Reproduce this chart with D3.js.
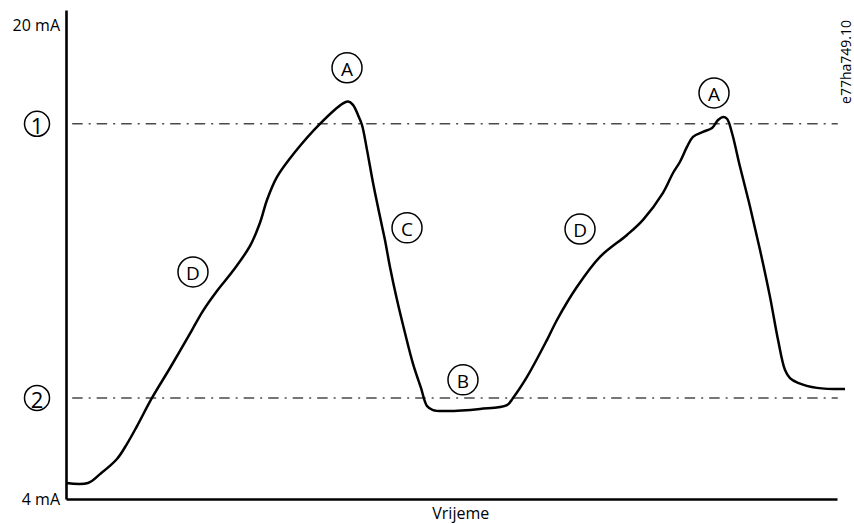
<!doctype html>
<html lang="hr">
  <head>
    <meta charset="utf-8">
    <title>Vrijeme / mA</title>
    <style>
      body {
          margin: 0;
          background: #fff;
          font-family: "Open Sans", sans-serif;
      }
      .curve {
          fill: none;
          stroke: #000;
          stroke-width: 2.5px;
          stroke-linejoin: round;
      }
      .level {
          stroke: #4a4a4a;
          stroke-width: 1.6px;
          stroke-dasharray: 10.5 6 2 6;
      }
      .axis path {
          stroke: #000;
          stroke-width: 2.6px;
      }
      .axis text {
          font-family: "Open Sans", sans-serif;
          font-size: 16px;
          fill: #000;
      }
      .mark circle {
          fill: #fff;
          stroke: #000;
          stroke-width: 1.5px;
      }
      .mark text {
          text-anchor: middle;
          dominant-baseline: central;
          fill: #000;
      }
    </style>
    <script src="https://d3js.org/d3.v7.min.js"></script>
  </head>
  <body>
    <script>
      // time (0..100) and current (mA)
      const curveTime = [0, 2.85, 4.41, 6.61, 7.91, 9.21, 11.15, 13.49, 16.34, 17.77, 19.58, 21.66,
          23.87, 25.16, 26.07, 27.37, 29.70, 32.94, 35.93, 36.58, 37.22, 37.87, 38.39, 39.04,
          39.82, 40.73, 41.37, 42.02, 42.93, 43.97, 45.01, 46.04, 46.82, 47.60, 49.42, 53.70,
          57.20, 57.98, 59.79, 62.39, 63.68, 66.28, 69.26, 72.76, 74.84, 77.43, 78.73, 79.64,
          80.54, 81.32, 82.62, 83.79, 84.57, 85.21, 85.73, 86.38, 87.42, 88.72, 90.01, 91.31,
          92.35, 93.26, 93.90, 94.94, 97.41, 101.04];
      const curveMA = [4.54, 4.54, 4.84, 5.35, 5.86, 6.46, 7.41, 8.42, 9.70, 10.35, 11.02, 11.70,
          12.54, 13.32, 14.09, 14.87, 15.71, 16.66, 17.35, 17.41, 17.30, 16.96, 16.62, 15.78,
          14.67, 13.52, 12.74, 11.83, 10.72, 9.60, 8.56, 7.75, 7.14, 7.00, 6.97, 7.04,
          7.17, 7.41, 8.12, 9.37, 10.04, 11.16, 12.17, 12.91, 13.42, 14.33, 15.00, 15.38,
          15.88, 16.22, 16.39, 16.52, 16.79, 16.89, 16.83, 16.35, 15.21, 13.86, 12.41, 10.82,
          9.37, 8.35, 8.08, 7.92, 7.75, 7.71];

      const levelNames = ['1', '2'];
      const levelMA = [16.66, 7.41];

      const markNames = ['A', 'A', 'B', 'C', 'D', 'D'];
      const markTime = [36.45, 84.05, 51.49, 44.23, 16.47, 66.67];
      const markMA = [18.55, 17.70, 8.02, 13.15, 11.66, 13.11];

      const tickMA = [4, 20];
      const tickLabels = ['4 mA', '20 mA'];
      const xTitle = 'Vrijeme';
      const figCode = 'e77ha749.10';

      const width = 854, height = 524;
      const margin = {left: 66, right: 17, top: 10, bottom: 25};

      const x = d3.scaleLinear()
          .domain([0, 100])
          .range([margin.left, width - margin.right]);

      const y = d3.scaleLinear()
          .domain([4, 20.5])
          .range([height - margin.bottom, margin.top]);

      const svg = d3.select('body').append('svg')
          .attr('width', width)
          .attr('height', height);

      // threshold levels
      svg.selectAll('line.level')
          .data(levelMA)
          .enter().append('line')
          .attr('class', 'level')
          .attr('x1', x(0.8))
          .attr('x2', x(100.1))
          .attr('y1', d => y(d))
          .attr('y2', d => y(d));

      const points = curveTime.map((t, i) => [t, curveMA[i]]);
      const line = d3.line()
          .x(d => x(d[0]))
          .y(d => y(d[1]))
          .curve(d3.curveCatmullRom.alpha(0.5));

      svg.append('path')
          .attr('class', 'curve')
          .attr('d', line(points));

      // axes
      svg.append('g')
          .attr('class', 'axis')
          .attr('transform', `translate(${margin.left},0)`)
          .call(d3.axisLeft(y)
              .tickValues(tickMA)
              .tickFormat((d, i) => tickLabels[i])
              .tickSize(0)
              .tickPadding(6))
          .call(g => g.selectAll('.tick text').attr('dy', '0.35em'));

      svg.append('g')
          .attr('class', 'axis')
          .attr('transform', `translate(0,${y(4)})`)
          .call(d3.axisBottom(x).tickValues([]).tickSizeOuter(0));

      svg.append('text')
          .attr('x', x(51.2))
          .attr('y', y(4) + 20)
          .attr('text-anchor', 'middle')
          .style('font-size', '16px')
          .text(xTitle);

      svg.append('text')
          .attr('transform', `translate(${width - 3},${margin.top + 52}) rotate(-90)`)
          .attr('text-anchor', 'middle')
          .style('font-size', '14px')
          .text(figCode);

      // numbered level marks left of the axis
      const lev = svg.selectAll('g.lev')
          .data(levelMA)
          .enter().append('g')
          .attr('class', 'mark')
          .attr('transform', d => `translate(${margin.left - 29},${y(d)})`);
      lev.append('circle').attr('r', 12.5);
      lev.append('text')
          .style('font-size', '22px')
          .attr('dy', '0.04em')
          .text((d, i) => levelNames[i]);

      // lettered marks on the curve
      const mk = svg.selectAll('g.mk')
          .data(markNames)
          .enter().append('g')
          .attr('class', 'mark')
          .attr('transform', (d, i) => `translate(${x(markTime[i])},${y(markMA[i])})`);
      mk.append('circle').attr('r', 15);
      mk.append('text')
          .style('font-size', '19px')
          .attr('dy', '0.04em')
          .text(d => d);
    </script>
  </body>
</html>
